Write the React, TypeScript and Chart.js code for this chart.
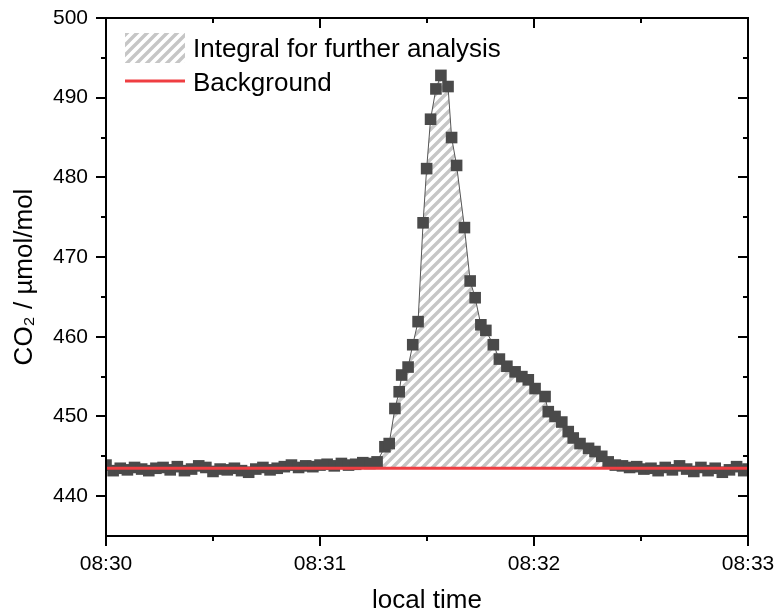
import { useEffect, useRef } from 'react';
import { Chart, registerables } from 'chart.js';

Chart.register(...registerables);

// seconds after 08:30:00
const timeSec = [
  0, 2, 4, 6, 8, 10, 12, 14, 16, 18, 20, 22, 24, 26, 28, 30, 32, 34, 36, 38,
  40, 42, 44, 46, 48, 50, 52, 54, 56, 58, 60, 62, 64, 66, 68, 70, 72, 74, 76,
  78.2, 79.4, 81.0, 82.2, 82.9, 84.7, 86.0, 87.5, 88.9, 89.9, 91.0, 92.5, 93.9,
  95.9, 96.9, 98.3, 100.5, 102.1, 103.5, 105.1, 106.5, 108.6, 110.3, 112.4,
  114.7, 116.6, 118.4, 120.3, 123.1, 124.0, 125.9, 127.8, 129.6, 131.0, 132.9,
  135.3, 137.1, 139.0, 140.8,
  142.8, 144.8, 146.8, 148.8, 150.8, 152.8, 154.8, 156.8, 158.8, 160.8, 162.8,
  164.8, 166.8, 168.8, 170.8, 172.8, 174.8, 176.8, 178.8, 180,
];

const co2 = [
  443.9, 443.2, 443.5, 443.3, 443.6, 443.4, 443.2, 443.5, 443.6, 443.3, 443.7,
  443.2, 443.4, 443.8, 443.6, 443.1, 443.4, 443.3, 443.5, 443.2, 443.0, 443.4,
  443.6, 443.3, 443.5, 443.7, 443.9, 443.6, 443.8, 443.7, 443.9, 444.0, 443.8,
  444.1, 443.9, 444.0, 444.2, 444.1, 444.3,
  446.2, 446.6, 451.0, 453.1, 455.2, 456.2, 459.0, 461.9, 474.3, 481.1, 487.3,
  491.1, 492.8, 491.4, 485.0, 481.5, 473.7, 467.0, 464.9, 461.5, 460.8, 459.0,
  457.2, 456.3, 455.6, 455.0, 454.6, 453.5, 452.5, 450.6, 450.0, 449.3, 448.1,
  447.3, 446.6, 446.0, 445.6, 445.0, 444.3,
  443.9, 443.8, 443.6, 443.7, 443.4, 443.5, 443.2, 443.6, 443.3, 443.8, 443.4,
  443.1, 443.6, 443.2, 443.5, 443.0, 443.3, 443.7, 443.2, 443.4,
];

const backgroundLevel = 443.5;
const integralStartSec = 76;
const integralEndSec = 141;

const xTickValues = [0, 60, 120, 180];
const xTickLabels = ['08:30', '08:31', '08:32', '08:33'];
const xMinorValues = [30, 90, 150];
const yTickValues = [440, 450, 460, 470, 480, 490, 500];
const yMinorValues = [445, 455, 465, 475, 485, 495];
const legendLabels = ['Integral for further analysis', 'Background'];

const FONT = '"Liberation Sans", Arial, sans-serif';

function makeHatch(): CanvasPattern | string {
  const s = 10;
  const c = document.createElement('canvas');
  c.width = s;
  c.height = s;
  const g = c.getContext('2d');
  if (!g) return '#ccc';
  g.fillStyle = '#ffffff';
  g.fillRect(0, 0, s, s);
  g.strokeStyle = '#c6c6c6';
  g.lineWidth = 3.4;
  g.beginPath();
  g.moveTo(0, s);
  g.lineTo(s, 0);
  g.moveTo(-s / 2, s / 2);
  g.lineTo(s / 2, -s / 2);
  g.moveTo(s / 2, s + s / 2);
  g.lineTo(s + s / 2, s / 2);
  g.stroke();
  const p = g.createPattern(c, 'repeat');
  return p || '#ccc';
}

const zeroPad = (s: any) => {
  s.paddingTop = 0;
  s.paddingBottom = 0;
  s.paddingLeft = 0;
  s.paddingRight = 0;
};

export default function App() {
  const ref = useRef<HTMLCanvasElement | null>(null);

  useEffect(() => {
    document.body.style.margin = '0';
    const canvas = ref.current;
    if (!canvas) return;
    const hatch = makeHatch();

    const points = timeSec.map((t, i) => ({ x: t, y: co2[i] }));
    const integralPts = points.filter((p) => p.x >= integralStartSec && p.x <= integralEndSec);
    const bgPts = [
      { x: xTickValues[0], y: backgroundLevel },
      { x: xTickValues[xTickValues.length - 1], y: backgroundLevel },
    ];

    const framePlugin = {
      id: 'frame',
      afterDatasetsDraw(chart: any) {
        const { ctx, chartArea } = chart;
        const { left, right, top, bottom } = chartArea;
        const xs = chart.scales.x;
        const ys = chart.scales.y;
        ctx.save();
        ctx.strokeStyle = '#000';
        ctx.lineWidth = 2;
        ctx.strokeRect(left, top, right - left, bottom - top);
        ctx.beginPath();
        const hx = (v: number, len: number) => {
          const px = Math.round(xs.getPixelForValue(v));
          ctx.moveTo(px, bottom);
          ctx.lineTo(px, bottom + len);
          ctx.moveTo(px, top);
          ctx.lineTo(px, top + len);
        };
        xTickValues.forEach((v) => hx(v, 10));
        xMinorValues.forEach((v) => hx(v, 5));
        const vy = (v: number, len: number) => {
          const py = Math.round(ys.getPixelForValue(v));
          ctx.moveTo(left, py);
          ctx.lineTo(left - len, py);
          ctx.moveTo(right, py);
          ctx.lineTo(right - len, py);
        };
        yTickValues.forEach((v) => vy(v, 10));
        yMinorValues.forEach((v) => vy(v, 5));
        ctx.stroke();

        // legend
        const lx = left + 19;
        const ly = top + 15;
        ctx.fillStyle = hatch as any;
        ctx.fillRect(lx, ly, 60, 30);
        ctx.strokeStyle = '#ef3e42';
        ctx.lineWidth = 3;
        ctx.beginPath();
        ctx.moveTo(lx, ly + 48);
        ctx.lineTo(lx + 60, ly + 48);
        ctx.stroke();
        ctx.fillStyle = '#000';
        ctx.font = `26px ${FONT}`;
        ctx.textBaseline = 'alphabetic';
        ctx.textAlign = 'left';
        ctx.fillText(legendLabels[0], lx + 68, ly + 24);
        ctx.fillText(legendLabels[1], lx + 68, ly + 58);
        ctx.restore();
      },
    };

    const chart = new Chart(canvas, {
      type: 'scatter',
      data: {
        datasets: [
          {
            label: legendLabels[0],
            data: integralPts,
            showLine: true,
            fill: { value: backgroundLevel },
            backgroundColor: hatch as any,
            borderColor: '#555555',
            borderWidth: 1,
            pointRadius: 0,
            order: 3,
            clip: 0,
          } as any,
          {
            label: 'CO2',
            data: points,
            showLine: false,
            pointStyle: 'rect',
            pointRadius: 8.2,
            pointBackgroundColor: '#4a4a4a',
            pointBorderColor: '#4a4a4a',
            pointBorderWidth: 0,
            order: 2,
            clip: 0,
          } as any,
          {
            label: legendLabels[1],
            data: bgPts,
            showLine: true,
            borderColor: '#ef3e42',
            borderWidth: 3,
            pointRadius: 0,
            fill: false,
            order: 1,
            clip: 0,
          } as any,
        ],
      },
      options: {
        animation: false,
        responsive: false,
        layout: { padding: { left: 0, top: 18, right: 29, bottom: 0 } },
        plugins: { legend: { display: false }, tooltip: { enabled: false } },
        scales: {
          x: {
            type: 'linear',
            min: 0,
            max: 180,
            grid: { display: false, drawTicks: false },
            border: { display: false },
            afterFit: (s: any) => {
              s.height = 78;
              zeroPad(s);
            },
            afterBuildTicks: (s: any) => {
              s.ticks = xTickValues.map((v) => ({ value: v }));
            },
            ticks: {
              color: '#000',
              padding: 16,
              maxRotation: 0,
              font: { family: FONT, size: 21 },
              callback: (v: any) => xTickLabels[xTickValues.indexOf(Number(v))] ?? '',
            },
            title: {
              display: true,
              text: 'local time',
              color: '#000',
              font: { family: FONT, size: 26, lineHeight: 1 },
              padding: { top: 0, bottom: 0 },
            },
          },
          y: {
            type: 'linear',
            min: 435,
            max: 500,
            grid: { display: false, drawTicks: false },
            border: { display: false },
            afterFit: (s: any) => {
              s.width = 106;
              zeroPad(s);
            },
            afterBuildTicks: (s: any) => {
              s.ticks = yTickValues.map((v) => ({ value: v }));
            },
            ticks: {
              color: '#000',
              padding: 18,
              font: { family: FONT, size: 21 },
            },
            title: {
              display: true,
              text: 'CO₂ / µmol/mol',
              color: '#000',
              font: { family: FONT, size: 26, lineHeight: 1 },
              padding: { top: 12, bottom: 0 },
            },
          },
        },
      },
      plugins: [framePlugin],
    });

    return () => chart.destroy();
  }, []);

  return (
    <div style={{ width: 777, height: 614 }}>
      <canvas ref={ref} width={777} height={614} />
    </div>
  );
}
